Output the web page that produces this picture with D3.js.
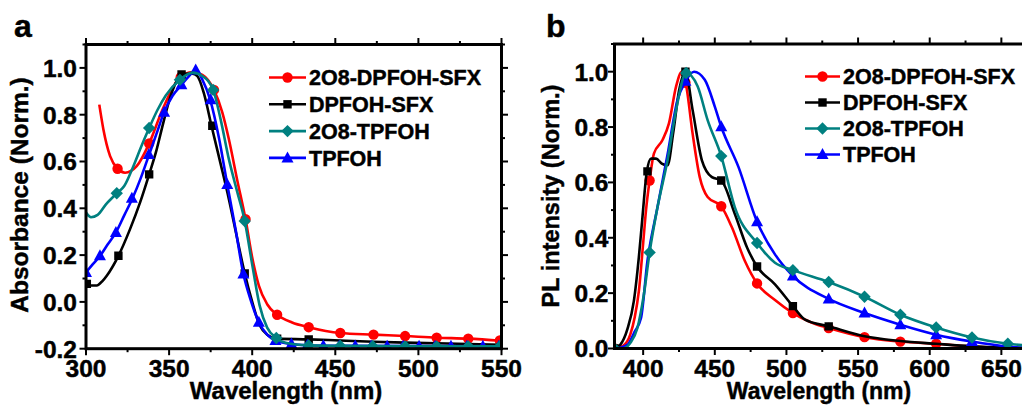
<!DOCTYPE html>
<html><head><meta charset="utf-8">
<script src="https://cdn.jsdelivr.net/npm/d3@7"></script>
<style>
html,body{margin:0;padding:0;background:#fff;}
svg{display:block;}
text{font-family:"Liberation Sans",Arial,sans-serif;font-weight:bold;fill:#000;stroke:#000;stroke-width:0.45px;}
</style></head>
<body>
<svg id="chart" width="1022" height="405"></svg>
<script>
// ---------------- DATA ----------------
const seriesNames = ["2O8-DPFOH-SFX", "DPFOH-SFX", "2O8-TPFOH", "TPFOH"];
const seriesColors = ["#ff0000", "#000000", "#008080", "#0000ff"];
const seriesShapes = ["circle", "square", "diamond", "triangle"];

// Panel a: absorbance (wavelength nm, normalized absorbance)
const absRedLine = [[308,0.843],[310.5,0.736],[314.5,0.623],[319,0.569],[323.5,0.552],[330.5,0.58],[338,0.677],[346,0.821],[356,0.955],[364,0.982],[370,0.97],[377,0.906],[382,0.81],[386,0.694],[391,0.52],[396,0.353],[400,0.19],[404,0.07],[409,-0.01],[415,-0.055],[424,-0.088],[434,-0.108],[453,-0.133],[473,-0.14],[492,-0.146],[511,-0.153],[530,-0.157],[550,-0.166]];
const absRedMarks = [[319,0.569],[338,0.677],[357,0.96],[377,0.906],[396,0.353],[415,-0.055],[434,-0.108],[453,-0.133],[473,-0.14],[492,-0.146],[511,-0.153],[530,-0.157],[549,-0.165]];

const absBlackLine = [[300,0.077],[303,0.07],[306.5,0.07],[310,0.09],[312.5,0.112],[319.5,0.197],[326.5,0.311],[332.5,0.424],[338,0.545],[342.5,0.651],[346.5,0.765],[350.5,0.871],[356.5,0.963],[360,0.975],[364,0.975],[367,0.965],[371,0.89],[375.5,0.753],[381,0.59],[386,0.438],[391,0.27],[395.5,0.122],[400,0.0],[404.5,-0.1],[409,-0.14],[415,-0.157],[434,-0.16],[453,-0.165],[473,-0.17],[492,-0.174],[511,-0.177],[530,-0.18],[550,-0.183]];
const absBlackMarks = [[300.5,0.077],[319.5,0.197],[338,0.545],[357.5,0.972],[376,0.753],[395.5,0.122],[415,-0.157],[434,-0.16]];

const absTealLine = [[300,0.382],[303,0.362],[307,0.372],[312,0.417],[318.5,0.464],[323,0.495],[328.5,0.58],[333,0.66],[338,0.743],[343,0.82],[348,0.882],[356.5,0.949],[364,0.98],[370,0.965],[376.5,0.906],[381,0.78],[386,0.609],[391,0.47],[395.5,0.346],[400,0.16],[404.5,-0.016],[409,-0.11],[414.5,-0.154],[420,-0.175],[434,-0.186],[453,-0.188],[500,-0.19],[550,-0.19]];
const absTealMarks = [[318.5,0.464],[338,0.743],[356.5,0.949],[376.5,0.906],[395.5,0.346],[414.5,-0.154],[434,-0.186],[453,-0.188],[472.5,-0.189],[492,-0.19],[511,-0.19],[530,-0.19],[549,-0.19]];

const absBlueLine = [[300,0.126],[304,0.16],[308.5,0.197],[313,0.245],[318,0.297],[323,0.37],[328,0.443],[333,0.53],[338,0.63],[342.5,0.72],[347,0.811],[352,0.88],[357.5,0.928],[362,0.965],[366,0.991],[370,0.95],[374.7,0.864],[380,0.7],[385,0.502],[390,0.31],[394.7,0.119],[399,0.01],[404,-0.087],[409,-0.14],[414,-0.165],[423.6,-0.18],[433,-0.185],[453,-0.188],[550,-0.19]];
const absBlueMarks = [[300,0.126],[308.4,0.197],[318,0.297],[327.6,0.443],[337.8,0.63],[347,0.811],[357.4,0.928],[366,0.991],[375,0.864],[385,0.502],[394.7,0.119],[404,-0.087],[414,-0.165],[423.6,-0.18],[433.2,-0.185],[442.8,-0.187],[452.4,-0.188],[462,-0.188],[471.6,-0.189],[481.2,-0.189],[490.8,-0.19],[500.4,-0.19],[510,-0.19],[519.6,-0.19],[529.2,-0.19],[538.8,-0.19],[548.4,-0.19]];

// Panel b: PL (wavelength nm, normalized intensity)
const plRedLine = [[380,0.0],[386,0.01],[391,0.05],[394,0.11],[397,0.207],[400,0.38],[402,0.5],[404.5,0.607],[407.5,0.704],[413.5,0.753],[418,0.813],[423,0.947],[427,1.0],[430,0.95],[434.5,0.777],[439.5,0.619],[445,0.547],[454.5,0.514],[462,0.437],[471,0.316],[479.5,0.235],[492,0.175],[504.5,0.128],[517,0.095],[529.5,0.074],[554.5,0.041],[579.5,0.025],[604.5,0.017],[629.5,0.007],[654.5,0.002],[680,0.0]];
const plRedMarks = [[380,0.0],[404.5,0.607],[429.5,0.96],[454.5,0.514],[479.5,0.235],[504.5,0.128],[529.5,0.074],[554.5,0.041],[579.5,0.025],[604.5,0.017],[629.5,0.007],[654.5,0.002]];

const plBlackLine = [[380,0.0],[384,0.013],[389,0.07],[393.5,0.171],[397,0.33],[399.5,0.474],[402.5,0.637],[405.5,0.686],[409,0.686],[413,0.668],[417,0.662],[421,0.78],[425,0.93],[429.5,1.0],[434.5,0.862],[441,0.68],[448,0.619],[454.5,0.607],[464,0.486],[472.5,0.365],[479.5,0.296],[492,0.232],[504.5,0.153],[513,0.104],[529.5,0.08],[554.5,0.044],[579.5,0.027],[604.5,0.017],[629.5,0.008],[654.5,0.003],[680,0.0]];
const plBlackMarks = [[380,0.0],[403,0.64],[429.5,1.0],[454.5,0.607],[479.5,0.296],[504.5,0.153],[529.5,0.08]];

const plTealLine = [[380,0.0],[386.5,0.001],[391,0.02],[396,0.074],[400.5,0.195],[404.5,0.347],[410,0.51],[417,0.68],[423,0.862],[430,0.995],[438,0.947],[445,0.825],[454.5,0.695],[464,0.51],[479.5,0.381],[492,0.31],[504.5,0.283],[529.5,0.24],[554.5,0.187],[579.5,0.122],[604.5,0.076],[629.5,0.04],[654.5,0.017],[680,0.008]];
const plTealMarks = [[380,0.0],[404.5,0.347],[430,0.995],[454.5,0.695],[479.5,0.381],[504.5,0.283],[529.5,0.24],[554.5,0.187],[579.5,0.122],[604.5,0.076],[629.5,0.04],[654.5,0.017]];

const plBlueLine = [[380,0.0],[384,0.003],[389,0.013],[394,0.06],[398.5,0.11],[403,0.316],[410,0.51],[417,0.7],[424,0.898],[429.5,0.965],[435.5,1.0],[443,0.971],[450,0.874],[454.5,0.801],[466.5,0.656],[479.5,0.458],[492,0.34],[504.5,0.262],[529.5,0.179],[554.5,0.128],[579.5,0.086],[604.5,0.05],[629.5,0.025],[654.5,0.007],[680,0.0]];
const plBlueMarks = [[429.5,0.965],[454.5,0.801],[479.5,0.458],[504.5,0.262],[529.5,0.179],[554.5,0.128],[579.5,0.086],[604.5,0.05],[629.5,0.025],[654.5,0.007]];

// ticks
const absXTicks = [300,350,400,450,500,550];
const absXMinor = [325,375,425,475,525];
const absYTicks = [-0.2,0.0,0.2,0.4,0.6,0.8,1.0];
const absYMinor = [-0.1,0.1,0.3,0.5,0.7,0.9,1.1];
const plXTicks = [400,450,500,550,600,650,700];
const plXMinor = [425,475,525,575,625,675];
const plYTicks = [0.0,0.2,0.4,0.6,0.8,1.0];
const plYMinor = [0.1,0.3,0.5,0.7,0.9,1.1];

// ---------------- DRAW ----------------
const svg = d3.select("#chart");

function shapePath(shape, cx, cy) {
  if (shape === "circle") { const r = 5.2; return `M${cx-r},${cy}a${r},${r} 0 1,0 ${2*r},0a${r},${r} 0 1,0 ${-2*r},0Z`; }
  if (shape === "square") { const h = 4.2; return `M${cx-h},${cy-h}h${2*h}v${2*h}h${-2*h}Z`; }
  if (shape === "diamond") { const h = 6.2; return `M${cx},${cy-h}L${cx+h},${cy}L${cx},${cy+h}L${cx-h},${cy}Z`; }
  const w = 6, t = 6.5, b = 4.5; return `M${cx},${cy-t}L${cx+w},${cy+b}L${cx-w},${cy+b}Z`;
}

function panel(cfg) {
  const g = svg.append("g");
  const x = d3.scaleLinear().domain(cfg.xDomain).range(cfg.xRange);
  const y = d3.scaleLinear().domain(cfg.yDomain).range(cfg.yRange);
  const [x0, x1] = cfg.xRange, [y0, y1] = [cfg.yRange[1], cfg.yRange[0]];
  const clipId = "clip" + cfg.id;
  g.append("clipPath").attr("id", clipId).append("rect")
    .attr("x", x0).attr("y", y0 - 8).attr("width", x1 - x0).attr("height", y1 - y0 + 8);

  // ticks (outward on all sides)
  const tk = g.append("g").attr("stroke", "#000").attr("stroke-width", 2);
  const maj = 6.5, mn = 3.5;
  const inX = v => v >= cfg.xDomain[0] && v <= cfg.xDomain[1];
  cfg.xTicks.filter(inX).forEach(v => {
    tk.append("line").attr("x1", x(v)).attr("x2", x(v)).attr("y1", y1).attr("y2", y1 + maj);
    tk.append("line").attr("x1", x(v)).attr("x2", x(v)).attr("y1", y0).attr("y2", y0 - maj);
  });
  cfg.xMinor.filter(inX).forEach(v => {
    tk.append("line").attr("x1", x(v)).attr("x2", x(v)).attr("y1", y1).attr("y2", y1 + mn);
    tk.append("line").attr("x1", x(v)).attr("x2", x(v)).attr("y1", y0).attr("y2", y0 - mn);
  });
  cfg.yTicks.forEach(v => {
    tk.append("line").attr("x1", x0).attr("x2", x0 - maj).attr("y1", y(v)).attr("y2", y(v));
    tk.append("line").attr("x1", x1).attr("x2", x1 + maj).attr("y1", y(v)).attr("y2", y(v));
  });
  cfg.yMinor.forEach(v => {
    tk.append("line").attr("x1", x0).attr("x2", x0 - mn).attr("y1", y(v)).attr("y2", y(v));
    tk.append("line").attr("x1", x1).attr("x2", x1 + mn).attr("y1", y(v)).attr("y2", y(v));
  });

  // tick labels
  g.append("g").selectAll("text").data(cfg.xTicks.filter(inX)).join("text")
    .attr("x", d => x(d)).attr("y", 377).attr("text-anchor", "middle")
    .style("font-size", cfg.tickFont + "px").text(d => d);
  g.append("g").selectAll("text").data(cfg.yTicks).join("text")
    .attr("x", x0 - cfg.yLabelGap).attr("y", d => y(d)).attr("dy", "0.36em").attr("text-anchor", "end")
    .style("font-size", cfg.tickFont + "px").text(d => d.toFixed(1));

  // series
  const line = d3.line().x(d => x(d[0])).y(d => y(d[1])).curve(d3.curveMonotoneX);
  const plot = g.append("g").attr("clip-path", `url(#${clipId})`);
  cfg.order.forEach(i => {
    plot.append("path").datum(cfg.lines[i]).attr("d", line)
      .attr("fill", "none").attr("stroke", seriesColors[i]).attr("stroke-width", 2.6)
      .attr("stroke-linejoin", "round");
    plot.append("g").selectAll("path").data(cfg.marks[i]).join("path")
      .attr("d", d => shapePath(seriesShapes[i], x(d[0]), y(d[1])))
      .attr("fill", seriesColors[i]);
  });

  // frame
  g.append("rect").attr("x", x0).attr("y", y0).attr("width", x1 - x0).attr("height", y1 - y0)
    .attr("fill", "none").attr("stroke", "#000").attr("stroke-width", 3);

  // legend
  seriesNames.forEach((n, i) => {
    const ly = cfg.legY + i * cfg.legStep;
    g.append("line").attr("x1", cfg.legX).attr("x2", cfg.legX + cfg.legLen).attr("y1", ly).attr("y2", ly)
      .attr("stroke", seriesColors[i]).attr("stroke-width", 2.6);
    g.append("path").attr("d", shapePath(seriesShapes[i], cfg.legX + cfg.legLen / 2, ly)).attr("fill", seriesColors[i]);
    g.append("text").attr("x", cfg.legX + cfg.legLen + 3).attr("y", ly).attr("dy", "0.36em")
      .style("font-size", cfg.legFont + "px").text(n);
  });

  // axis titles
  g.append("text").attr("x", cfg.xTitleX).attr("y", 399).attr("text-anchor", "middle")
    .style("font-size", cfg.titleFont + "px").text("Wavelength (nm)");
  g.append("text").attr("transform", `translate(${cfg.yTitleX},${cfg.yTitleY}) rotate(-90)`)
    .attr("text-anchor", "middle").style("font-size", cfg.yTitleFont + "px").text(cfg.yTitle);

  // panel letter
  g.append("text").attr("x", cfg.letterX).attr("y", 36.5).style("font-size", "32px").text(cfg.letter);
}

panel({
  id: "a", letter: "a", letterX: 14,
  xDomain: [300, 550], xRange: [86, 501.5],
  yDomain: [-0.2, 1.1], yRange: [348.7, 44.5],
  xTicks: absXTicks, xMinor: absXMinor, yTicks: absYTicks, yMinor: absYMinor,
  tickFont: 24.5, yLabelGap: 9,
  lines: [absRedLine, absBlackLine, absTealLine, absBlueLine],
  marks: [absRedMarks, absBlackMarks, absTealMarks, absBlueMarks],
  order: [0, 1, 3, 2],
  legX: 269, legLen: 37, legY: 77.5, legStep: 26.8, legFont: 21.5,
  xTitleX: 286, titleFont: 24, yTitle: "Absorbance (Norm.)", yTitleX: 28, yTitleY: 195, yTitleFont: 24.5
});

panel({
  id: "b", letter: "b", letterX: 546,
  xDomain: [380, 700], xRange: [614.5, 1073],
  yDomain: [0, 1.1], yRange: [348.5, 44],
  xTicks: plXTicks, xMinor: plXMinor, yTicks: plYTicks, yMinor: plYMinor,
  tickFont: 24.5, yLabelGap: 6,
  lines: [plRedLine, plBlackLine, plTealLine, plBlueLine],
  marks: [plRedMarks, plBlackMarks, plTealMarks, plBlueMarks],
  order: [0, 1, 3, 2],
  legX: 805, legLen: 35, legY: 76.5, legStep: 26, legFont: 21.5,
  xTitleX: 819, titleFont: 23, yTitle: "PL intensity (Norm.)", yTitleX: 559, yTitleY: 196, yTitleFont: 23.5
});
</script>
</body></html>
